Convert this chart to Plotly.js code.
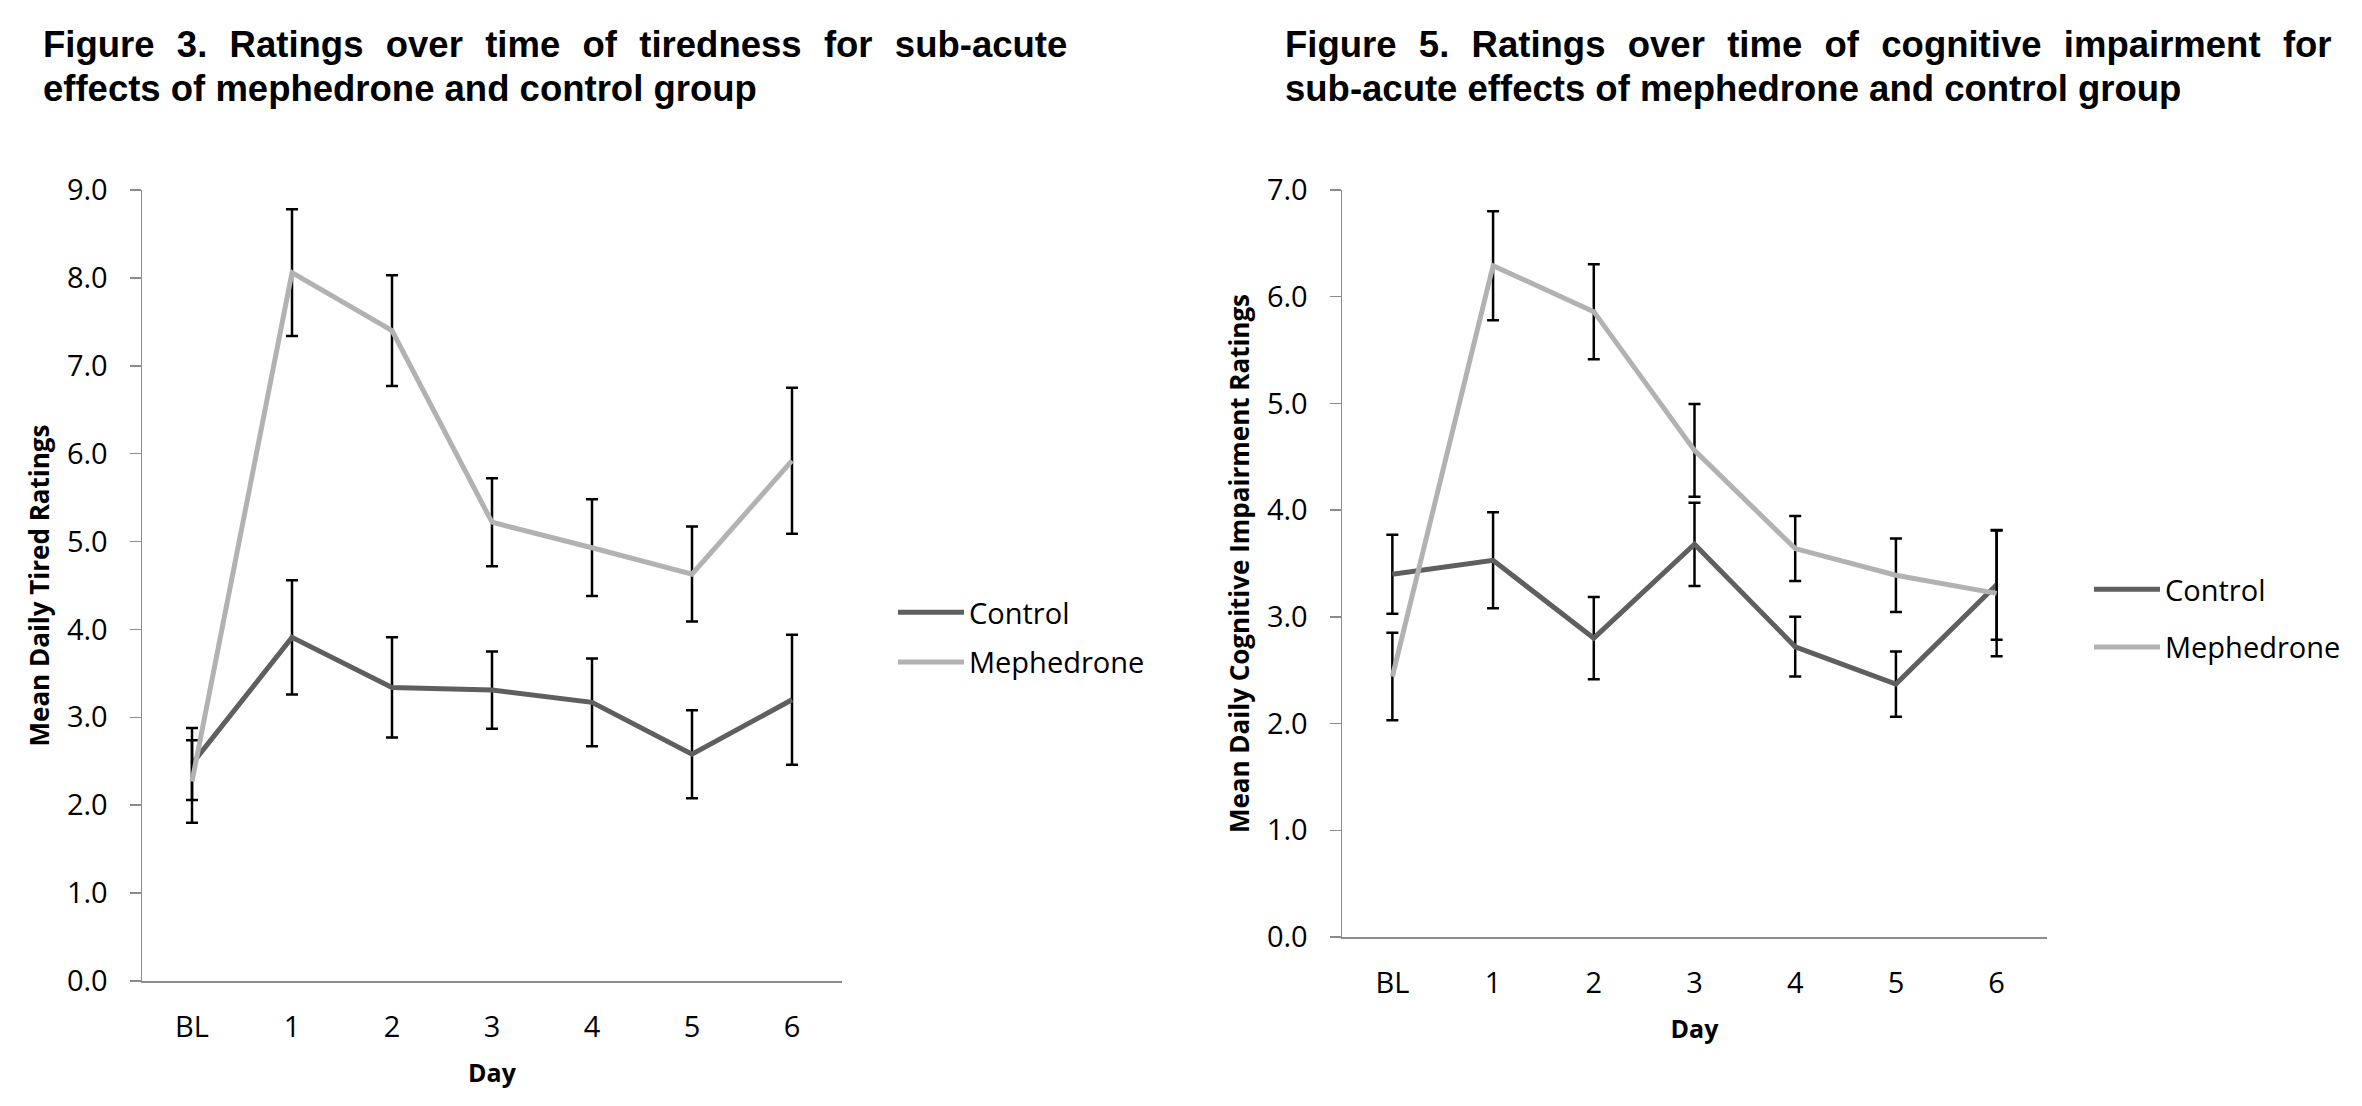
<!DOCTYPE html>
<html>
<head>
<meta charset="utf-8">
<script src="https://cdn.plot.ly/plotly-3.0.1.min.js"></script>
<style>
  html, body { margin: 0; padding: 0; background: #ffffff; }
  #chart { width: 2362px; height: 1106px; }
</style>
</head>
<body>
<div id="chart"></div>
<script>
// ---- data ----
const days = ["BL", "1", "2", "3", "4", "5", "6"];

// Figure 3: tiredness
const tiredControl   = [2.47, 3.91, 3.34, 3.31, 3.17, 2.58, 3.20];
const tiredControlSE = [0.41, 0.65, 0.57, 0.44, 0.50, 0.50, 0.74];
const tiredMeph      = [2.27, 8.06, 7.40, 5.22, 4.93, 4.63, 5.92];
const tiredMephSE    = [0.47, 0.72, 0.63, 0.50, 0.55, 0.54, 0.83];

// Figure 5: cognitive impairment
const cogControl   = [3.40, 3.53, 2.80, 3.68, 2.72, 2.37, 3.30];
const cogControlSE = [0.37, 0.45, 0.385, 0.39, 0.28, 0.305, 0.515];
const cogMeph      = [2.44, 6.29, 5.86, 4.56, 3.64, 3.39, 3.22];
const cogMephSE    = [0.41, 0.51, 0.445, 0.435, 0.305, 0.345, 0.59];

const seriesNames = ["Control", "Mephedrone"];

const title3Line1 = "Figure 3. Ratings over time of tiredness for sub-acute";
const title3Line2 = "effects of mephedrone and control group";
const title5Line1 = "Figure 5. Ratings over time of cognitive impairment for";
const title5Line2 = "sub-acute effects of mephedrone and control group";

// ---- styling ----
const W = 2362, H = 1106;
const px = v => v / W;
const py = v => 1 - v / H;
const CONTROL_COLOR = "#5f5f5f";
const MEPH_COLOR = "#b2b2b2";
const AXIS_COLOR = "#8c8c8c";
const chartFont = "Open Sans, Lato, sans-serif";
const capFont = "Liberation Sans, Arial, sans-serif";

function errBar(arr) {
  return { type: "data", array: arr, visible: true, color: "#000000", thickness: 2.5, width: 6 };
}
function mkTrace(y, se, name, color, xa, ya, legend) {
  return {
    type: "scatter", mode: "lines", x: days, y: y, name: name,
    xaxis: xa, yaxis: ya, legend: legend, legendgroup: legend + name,
    line: { color: color, width: 5 },
    error_y: errBar(se),
    hoverinfo: "skip"
  };
}

const data = [
  mkTrace(tiredControl, tiredControlSE, seriesNames[0], CONTROL_COLOR, "x", "y", "legend"),
  mkTrace(tiredMeph, tiredMephSE, seriesNames[1], MEPH_COLOR, "x", "y", "legend"),
  mkTrace(cogControl, cogControlSE, seriesNames[0], CONTROL_COLOR, "x2", "y2", "legend2"),
  mkTrace(cogMeph, cogMephSE, seriesNames[1], MEPH_COLOR, "x2", "y2", "legend2")
];

function xAxis(domain, anchor) {
  return {
    domain: domain, anchor: anchor, type: "category",
    categoryorder: "array", categoryarray: days,
    range: [-0.5, 6.5], showgrid: false, zeroline: false,
    showline: true, linecolor: AXIS_COLOR, linewidth: 1.5,
    ticks: "", ticklabelstandoff: 20,
    tickfont: { family: chartFont, size: 29, color: "#000" },
    title: { text: "Day", standoff: 20, font: { family: chartFont, size: 25, color: "#000", weight: "bold" } },
    fixedrange: true
  };
}
function yAxis(domain, anchor, max, titleText) {
  return {
    domain: domain, anchor: anchor, range: [0, max], dtick: 1, tick0: 0,
    tickformat: ".1f", showgrid: false, zeroline: false,
    showline: true, linecolor: AXIS_COLOR, linewidth: 1.5,
    ticks: "outside", ticklen: 11, tickwidth: 1.5, tickcolor: AXIS_COLOR,
    ticklabelstandoff: 16,
    tickfont: { family: chartFont, size: 29, color: "#000" },
    title: { text: titleText, standoff: 10, font: { family: chartFont, size: 26, color: "#000", weight: "bold" } },
    fixedrange: true
  };
}

function capAnn(text, x, y) {
  return {
    xref: "paper", yref: "paper", x: px(x), y: py(y), xanchor: "left", yanchor: "middle",
    text: text, showarrow: false,
    font: { family: capFont, size: 36.5, color: "#000", weight: "bold" }
  };
}
// justified first lines (wider word gaps)
const justify = (s, gap) => s.split(" ").join(" " + gap);

const legendCommon = {
  xanchor: "left", yanchor: "top", bgcolor: "rgba(0,0,0,0)", borderwidth: 0,
  font: { family: chartFont, size: 29, color: "#000" },
  itemwidth: 66, traceorder: "grouped"
};

const layout = {
  width: W, height: H,
  margin: { l: 0, r: 0, t: 0, b: 0 },
  paper_bgcolor: "#ffffff", plot_bgcolor: "#ffffff",
  showlegend: true,
  xaxis: xAxis([px(142), px(842)], "y"),
  yaxis: yAxis([py(981), py(190)], "x", 9, "Mean Daily Tired Ratings"),
  xaxis2: xAxis([px(1342), px(2047)], "y2"),
  yaxis2: yAxis([py(937), py(190)], "x2", 7, "Mean Daily Cognitive Impairment Ratings"),
  legend: Object.assign({ x: px(893), y: py(587), tracegroupgap: 9 }, legendCommon),
  legend2: Object.assign({ x: px(2089), y: py(564), tracegroupgap: 17 }, legendCommon),
  annotations: [
    capAnn(justify(title3Line1, "\u2004"), 41, 44),
    capAnn(title3Line2, 41, 89),
    capAnn(justify(title5Line1, "\u2005\u200A"), 1283, 44),
    capAnn(title5Line2, 1283, 89)
  ]
};

Plotly.newPlot("chart", data, layout, { staticPlot: true, displayModeBar: false });
</script>
</body>
</html>
